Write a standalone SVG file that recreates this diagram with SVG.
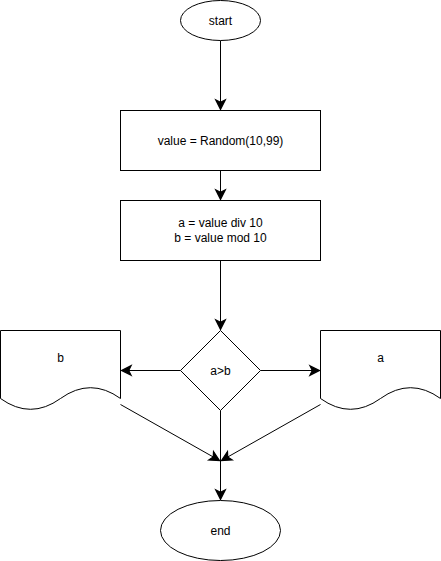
<svg xmlns="http://www.w3.org/2000/svg" width="441" height="561" viewBox="0 0 441 561">
<style>
.s{fill:#fff;stroke:#000;stroke-width:1}
.c{fill:none;stroke:#000;stroke-width:1}
.t{font-family:"Liberation Sans",Arial,sans-serif;font-size:12px;fill:#000;text-anchor:middle}
</style>
<defs>
<marker id="ah" markerUnits="userSpaceOnUse" markerWidth="12" markerHeight="12" viewBox="-9 -5 10 10" refX="0" refY="0" orient="auto" overflow="visible">
<path d="M-8,-4 L0,0 L-8,4 L-6,0 Z" fill="#000" stroke="#000" stroke-width="1"/>
</marker>
</defs>
<rect width="441" height="561" fill="#fff"/>
<g id="connectors">
<path class="c" d="M220.5,40.5 L220.5,109.5" marker-end="url(#ah)"/>
<path class="c" d="M220.5,170.5 L220.5,199.5" marker-end="url(#ah)"/>
<path class="c" d="M220.5,260.5 L220.5,329.5" marker-end="url(#ah)"/>
<path class="c" d="M180.5,370.5 L121.5,370.5" marker-end="url(#ah)"/>
<path class="c" d="M260.5,370.5 L319.5,370.5" marker-end="url(#ah)"/>
<path class="c" d="M220.5,410.5 L220.5,499.5" marker-end="url(#ah)"/>
<path class="c" d="M120.5,404.5 L219.5,460.5" marker-end="url(#ah)"/>
<path class="c" d="M320.5,404.5 L221.5,460.5" marker-end="url(#ah)"/>
</g>
<g id="start">
<ellipse class="s" cx="220.5" cy="20.5" rx="40" ry="20"/>
<text class="t" x="220.5" y="24.5">start</text>
</g>
<g id="random">
<rect class="s" x="120.5" y="110.5" width="200" height="60"/>
<text class="t" x="220.5" y="144.5">value = Random(10,99)</text>
</g>
<g id="split">
<rect class="s" x="120.5" y="200.5" width="200" height="60"/>
<text class="t" x="220.5" y="227">a = value div 10</text>
<text class="t" x="220.5" y="241.5">b = value mod 10</text>
</g>
<g id="decision">
<path class="s" d="M220.5,330.5 L260.5,370.5 L220.5,410.5 L180.5,370.5 Z"/>
<text class="t" x="220.5" y="374.5">a&gt;b</text>
</g>
<g id="outb">
<path class="s" d="M0.5,330.5 L120.5,330.5 L120.5,398.5 Q90.5,376.9 60.5,398.5 Q30.5,420.1 0.5,398.5 Z"/>
<text class="t" x="60.5" y="362">b</text>
</g>
<g id="outa">
<path class="s" d="M320.5,330.5 L440.5,330.5 L440.5,398.5 Q410.5,376.9 380.5,398.5 Q350.5,420.1 320.5,398.5 Z"/>
<text class="t" x="380.5" y="362">a</text>
</g>
<g id="end">
<ellipse class="s" cx="220.5" cy="530.5" rx="60" ry="30"/>
<text class="t" x="220.5" y="534.5">end</text>
</g>
</svg>
